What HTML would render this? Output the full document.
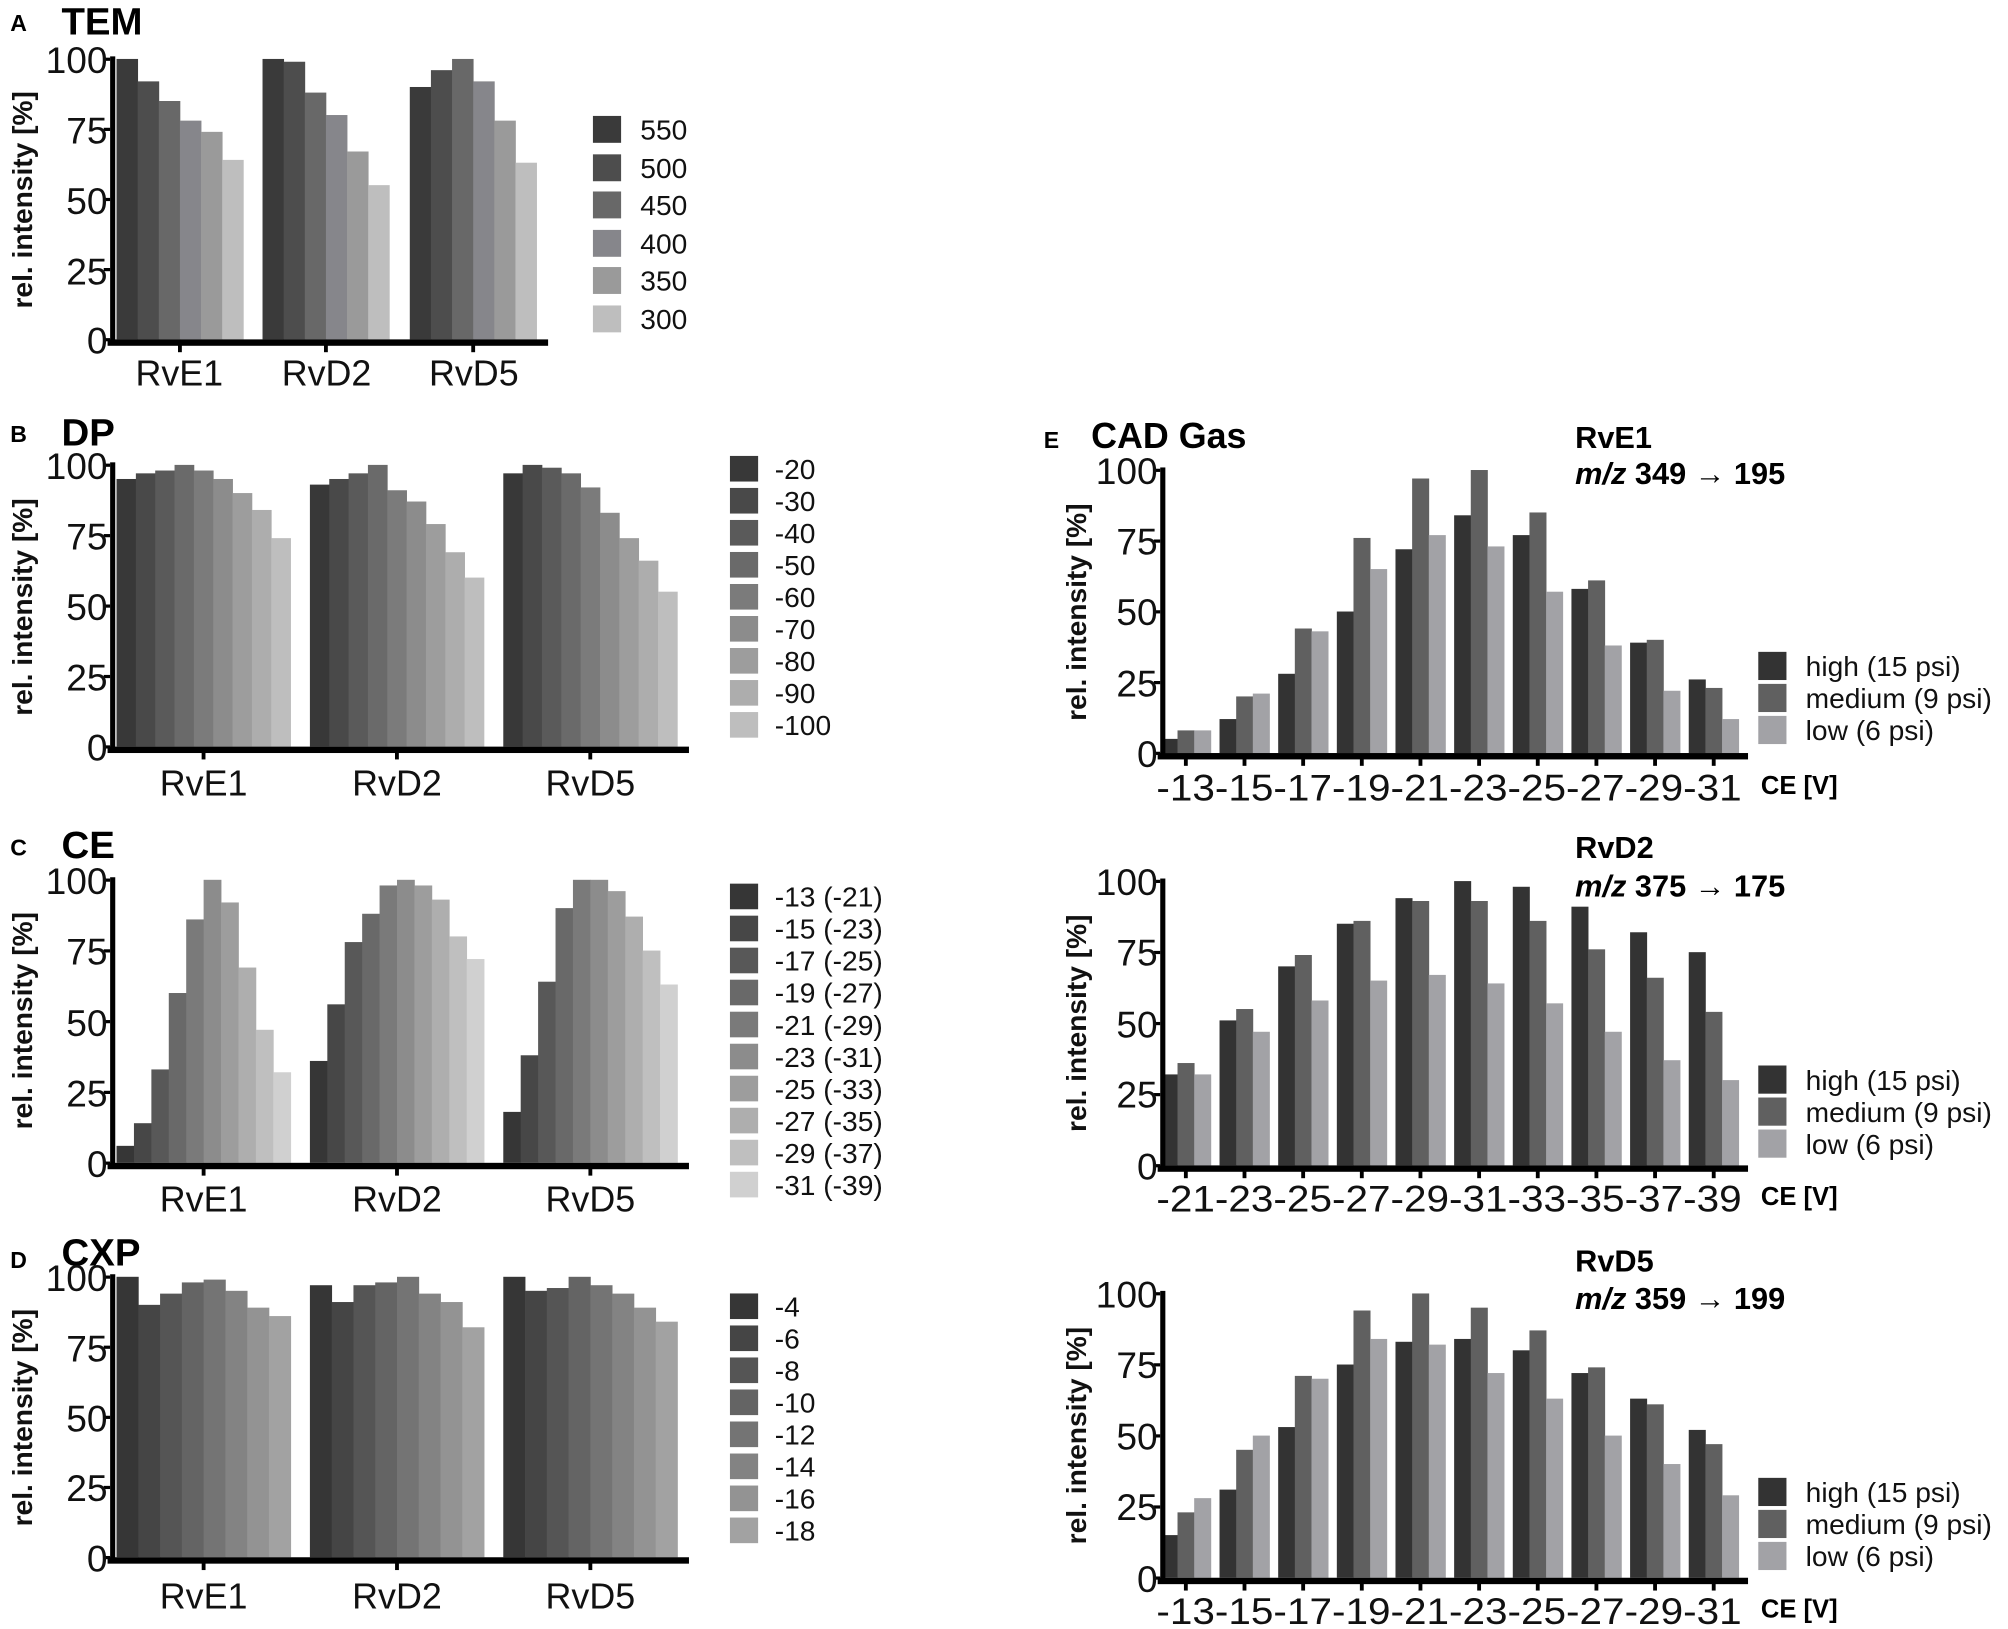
<!DOCTYPE html>
<html><head><meta charset="utf-8"><style>
html,body{margin:0;padding:0;background:#fff}
svg{display:block}
.n{font-family:"Liberation Sans",sans-serif;font-size:29px;fill:#111}
.c{font-family:"Liberation Sans",sans-serif;font-size:28px;fill:#111}
.lg{font-family:"Liberation Sans",sans-serif;font-size:22px;fill:#111}
.b{font-family:"Liberation Sans",sans-serif;font-weight:bold;fill:#000}
.yl{font-family:"Liberation Sans",sans-serif;font-weight:bold;font-size:22px;fill:#111}
</style></head><body>
<svg id="s" width="2008" height="1629" viewBox="0 0 1568 1272" xmlns="http://www.w3.org/2000/svg">
<g id="g"></g>
<text class="b" x="8" y="24" font-size="18">A</text>
<text class="b" x="48" y="27" font-size="30">TEM</text>
<text class="b" x="8" y="345" font-size="18">B</text>
<text class="b" x="48" y="348" font-size="30">DP</text>
<text class="b" x="8" y="668" font-size="18">C</text>
<text class="b" x="48" y="670" font-size="30">CE</text>
<text class="b" x="8" y="990" font-size="18">D</text>
<text class="b" x="48" y="988" font-size="30">CXP</text>
<text class="b" x="815" y="350" font-size="18">E</text>
<text class="b" x="852" y="350" font-size="28">CAD Gas</text>
<text class="b" x="1230" y="350" font-size="24">RvE1</text>
<text class="b" x="1230" y="378" font-size="24"><tspan font-style="italic">m/z</tspan> 349 → 195</text>
<text class="b" x="1230" y="670" font-size="24">RvD2</text>
<text class="b" x="1230" y="700" font-size="24"><tspan font-style="italic">m/z</tspan> 375 → 175</text>
<text class="b" x="1230" y="993" font-size="24">RvD5</text>
<text class="b" x="1230" y="1022" font-size="24"><tspan font-style="italic">m/z</tspan> 359 → 199</text>
<text class="yl" transform="translate(25,156) rotate(-90)" text-anchor="middle">rel. intensity [%]</text>
<text class="yl" transform="translate(25,474) rotate(-90)" text-anchor="middle">rel. intensity [%]</text>
<text class="yl" transform="translate(25,797) rotate(-90)" text-anchor="middle">rel. intensity [%]</text>
<text class="yl" transform="translate(25,1107) rotate(-90)" text-anchor="middle">rel. intensity [%]</text>
<text class="yl" transform="translate(848,478) rotate(-90)" text-anchor="middle">rel. intensity [%]</text>
<text class="yl" transform="translate(848,799) rotate(-90)" text-anchor="middle">rel. intensity [%]</text>
<text class="yl" transform="translate(848,1121) rotate(-90)" text-anchor="middle">rel. intensity [%]</text>
<g class="n" text-anchor="end">
<text x="84" y="57">100</text><text x="84" y="112">75</text><text x="84" y="167">50</text><text x="84" y="222">25</text><text x="84" y="276">0</text>
<text x="84" y="374">100</text><text x="84" y="429">75</text><text x="84" y="484">50</text><text x="84" y="539">25</text><text x="84" y="594">0</text>
<text x="84" y="698">100</text><text x="84" y="753">75</text><text x="84" y="809">50</text><text x="84" y="864">25</text><text x="84" y="919">0</text>
<text x="84" y="1008">100</text><text x="84" y="1063">75</text><text x="84" y="1118">50</text><text x="84" y="1172">25</text><text x="84" y="1227">0</text>
<text x="904" y="378">100</text><text x="904" y="433">75</text><text x="904" y="488">50</text><text x="904" y="544">25</text><text x="904" y="599">0</text>
<text x="904" y="699">100</text><text x="904" y="754">75</text><text x="904" y="810">50</text><text x="904" y="865">25</text><text x="904" y="921">0</text>
<text x="904" y="1021">100</text><text x="904" y="1076">75</text><text x="904" y="1132">50</text><text x="904" y="1187">25</text><text x="904" y="1243">0</text>
</g>
<g class="c" text-anchor="middle">
<text x="140" y="301">RvE1</text><text x="255" y="301">RvD2</text><text x="370" y="301">RvD5</text>
<text x="159" y="621">RvE1</text><text x="310" y="621">RvD2</text><text x="461" y="621">RvD5</text>
<text x="159" y="946">RvE1</text><text x="310" y="946">RvD2</text><text x="461" y="946">RvD5</text>
<text x="159" y="1256">RvE1</text><text x="310" y="1256">RvD2</text><text x="461" y="1256">RvD5</text>
</g>
<g class="n">
<text x="903" y="625" textLength="457" lengthAdjust="spacingAndGlyphs">-13-15-17-19-21-23-25-27-29-31</text>
<text x="903" y="946" textLength="457" lengthAdjust="spacingAndGlyphs">-21-23-25-27-29-31-33-35-37-39</text>
<text x="903" y="1268" textLength="457" lengthAdjust="spacingAndGlyphs">-13-15-17-19-21-23-25-27-29-31</text>
</g>
<text class="b" x="1375" y="620" font-size="20">CE [V]</text>
<text class="b" x="1375" y="941" font-size="20">CE [V]</text>
<text class="b" x="1375" y="1263" font-size="20">CE [V]</text>
<g class="lg">
<text x="500" y="109">550</text><text x="500" y="139">500</text><text x="500" y="168">450</text><text x="500" y="198">400</text><text x="500" y="227">350</text><text x="500" y="257">300</text>
<text x="605" y="374">-20</text><text x="605" y="399">-30</text><text x="605" y="424">-40</text><text x="605" y="449">-50</text><text x="605" y="474">-60</text><text x="605" y="499">-70</text><text x="605" y="524">-80</text><text x="605" y="549">-90</text><text x="605" y="574">-100</text>
<text x="605" y="708">-13 (-21)</text><text x="605" y="733">-15 (-23)</text><text x="605" y="758">-17 (-25)</text><text x="605" y="783">-19 (-27)</text><text x="605" y="808">-21 (-29)</text><text x="605" y="833">-23 (-31)</text><text x="605" y="858">-25 (-33)</text><text x="605" y="883">-27 (-35)</text><text x="605" y="908">-29 (-37)</text><text x="605" y="933">-31 (-39)</text>
<text x="605" y="1028">-4</text><text x="605" y="1053">-6</text><text x="605" y="1078">-8</text><text x="605" y="1103">-10</text><text x="605" y="1128">-12</text><text x="605" y="1153">-14</text><text x="605" y="1178">-16</text><text x="605" y="1203">-18</text>
<text x="1410" y="528">high (15 psi)</text><text x="1410" y="553">medium (9 psi)</text><text x="1410" y="578">low (6 psi)</text>
<text x="1410" y="851">high (15 psi)</text><text x="1410" y="876">medium (9 psi)</text><text x="1410" y="901">low (6 psi)</text>
<text x="1410" y="1173">high (15 psi)</text><text x="1410" y="1198">medium (9 psi)</text><text x="1410" y="1223">low (6 psi)</text>
</g>
</svg>
<script>
var g=document.getElementById('g'),NS='http://www.w3.org/2000/svg';
function R(x,y,w,h,f){var r=document.createElementNS(NS,'rect');r.setAttribute('x',x);r.setAttribute('y',y);r.setAttribute('width',w);r.setAttribute('height',h);r.setAttribute('fill',f);g.appendChild(r);}
function grad(n,a,b){var c=[];for(var i=0;i<n;i++){var v=Math.round(a+(b-a)*i/(n-1));c.push('rgb('+v+','+v+','+v+')');}return c;}
function axes(x0,yT,yB,xE,ticks){R(x0-2,yT-2,4,yB-yT+4,'#000');R(x0-4,yB,xE-x0+4,5,'#000');
for(var k=0;k<5;k++)R(x0-7,yT+(yB-yT)*k/4-1,5,2.5,'#000');
ticks.forEach(function(t){R(t-1.5,yB+4,3,6,'#000');});}
function grouped(x0,yT,yB,xE,starts,bw,data,cols){var ticks=[];
data.forEach(function(grp,gi){var s=starts[gi];ticks.push(s+bw*grp.length/2);
grp.forEach(function(v,i){var h=(yB-yT)*v/100;R(s+i*bw,yB-h,bw+0.3,h,cols[i]);});});
axes(x0,yT,yB,xE,ticks);}
function legend(x,ys,cols,w,h){ys.forEach(function(y,i){R(x,y-h/2,w,h,cols[i]);});}
var cA=['#3a3a3a','#4d4d4d','#686868','#86868b','#9a9a9a','#bebebe'];
grouped(88,46,265,428,[91,205,320],16.5,[[100,92,85,78,74,64],[100,99,88,80,67,55],[90,96,100,92,78,63]],cA);
legend(463,[101,131,160,190,219,249],cA,22,21);
var cB=grad(9,0x38,0xbe);
grouped(88,363,583,538,[91,242,393],15.1,[[95,97,98,100,98,95,90,84,74],[93,95,97,100,91,87,79,69,60],[97,100,99,97,92,83,74,66,55]],cB);
legend(570,[366,391,416,441,466,491,516,541,566],cB,22,20);
var cC=grad(10,0x36,0xd0);
grouped(88,687,908,538,[91,242,393],13.6,[[6,14,33,60,86,100,92,69,47,32],[36,56,78,88,98,100,98,93,80,72],[18,38,64,90,100,100,96,87,75,63]],cC);
legend(570,[700,725,750,775,800,825,850,875,900,925],cC,22,20);
var cD=grad(8,0x36,0xa2);
grouped(88,997,1216,538,[91,242,393],17,[[100,90,94,98,99,95,89,86],[97,91,97,98,100,94,91,82],[100,95,96,100,97,94,89,84]],cD);
legend(570,[1020,1045,1070,1095,1120,1145,1170,1195],cD,22,20);
var cE=['#333333','#606060','#a2a2a6'];
function E(yT,yB,h,m,l,ly){var starts=[],data=[];for(var i=0;i<10;i++){starts.push(926+i*45.8-19.5);data.push([h[i],m[i],l[i]]);}
grouped(908,yT,yB,1365,starts,13,data,cE);legend(1373,ly,cE,22,22);}
E(367,588,[5,12,28,50,72,84,77,58,39,26],[8,20,44,76,97,100,85,61,40,23],[8,21,43,65,77,73,57,38,22,12],[520,545,570]);
E(688,910,[32,51,70,85,94,100,98,91,82,75],[36,55,74,86,93,93,86,76,66,54],[32,47,58,65,67,64,57,47,37,30],[843,868,893]);
E(1010,1232,[15,31,53,75,83,84,80,72,63,52],[23,45,71,94,100,95,87,74,61,47],[28,50,70,84,82,72,63,50,40,29],[1165,1190,1215]);
</script>
</body></html>
